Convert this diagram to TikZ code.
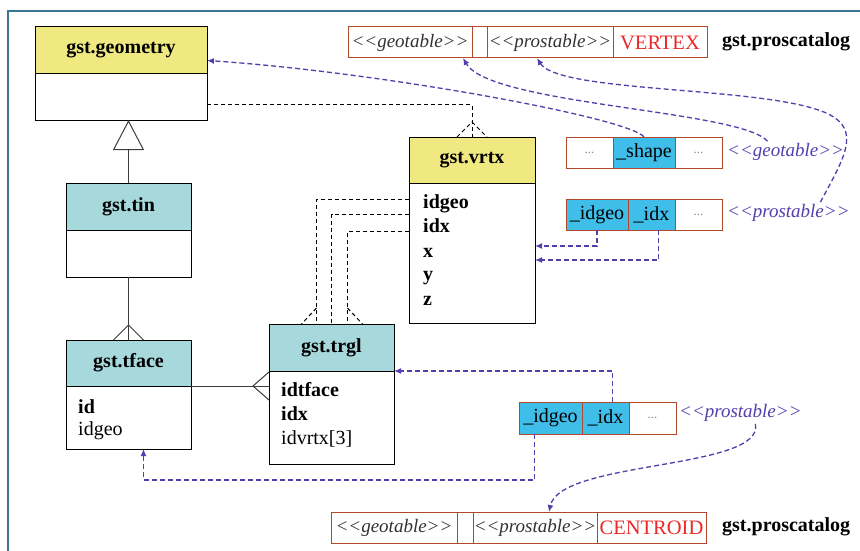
\documentclass[tikz,border=0pt]{standalone}
\usepackage{fontspec}
\setmainfont{Liberation Serif}
\usetikzlibrary{arrows.meta,calc}
\definecolor{frm}{RGB}{58,118,148}
\definecolor{ylw}{RGB}{240,232,128}
\definecolor{tea}{RGB}{166,216,220}
\definecolor{cyn}{RGB}{62,190,232}
\definecolor{tbl}{RGB}{178,72,42}
\definecolor{prp}{RGB}{84,62,172}
\definecolor{vred}{RGB}{236,40,40}
\definecolor{lnc}{RGB}{60,60,60}
\newcommand\dlt{<\kern0pt<}
\newcommand\dgt{>\kern0pt>}
\begin{document}
\begin{tikzpicture}[x=1pt,y=-1pt,
  uml/.style={draw=black, line width=1pt, inner sep=0pt, outer sep=0pt, anchor=north west},
  hdr/.style={uml, font=\fontsize{20}{24}\selectfont\bfseries},
  bodybox/.style={uml, fill=white},
  fld/.style={anchor=base west, inner sep=0pt, font=\fontsize{20}{24}\selectfont},
  cell/.style={draw=tbl, line width=1pt, inner sep=0pt, outer sep=0pt, anchor=north west, minimum height=31pt, font=\fontsize{20}{24}\selectfont},
  tcell/.style={cell, font=\fontsize{19}{23}\selectfont\itshape, text=black!80},
  dcell/.style={cell, minimum width=47pt, font=\fontsize{13}{15}\selectfont, text=black!45},
  bcell/.style={cell, fill=cyn},
  plab/.style={anchor=west, inner sep=0pt, text=prp, font=\fontsize{19}{23}\selectfont\itshape},
  cat/.style={anchor=west, inner sep=0pt, font=\fontsize{20}{24}\selectfont\bfseries},
  ln/.style={draw=lnc, line width=1pt},
  fk/.style={draw=black, line width=1pt, dash pattern=on 4pt off 3pt},
  lnk/.style={draw=prp, line width=1.3pt, dash pattern=on 5pt off 3pt, -{Latex[length=7pt,width=6pt]}},
  lnkn/.style={draw=prp, line width=1.3pt, dash pattern=on 5pt off 3pt}
]
\useasboundingbox (0,0) rectangle (860,551);
\fill[white] (0,0) rectangle (860,551);
\draw[frm, line width=2pt] (8,551) -- (8,11) -- (860,11);

% UML boxes
\node[hdr, fill=ylw, minimum width=172pt, minimum height=47pt] (geoH) at (35,27) {gst.geometry};
\node[bodybox, minimum width=172pt, minimum height=46pt] (geoB) at (geoH.south west) {};

\node[hdr, fill=tea, minimum width=125pt, minimum height=47pt] (tinH) at (66,183) {gst.tin};
\node[bodybox, minimum width=125pt, minimum height=47pt] (tinB) at (tinH.south west) {};

\node[hdr, fill=tea, minimum width=125pt, minimum height=46pt] (tfH) at (66,340) {gst.tface};
\node[bodybox, minimum width=125pt, minimum height=63pt] (tfB) at (tfH.south west) {};
\node[fld] (tf1) at ($(tfB.north west)+(12,27)$) {\bfseries id};
\node[fld] (tf2) at ($(tfB.north west)+(12,49)$) {idgeo};

\node[hdr, fill=tea, minimum width=125pt, minimum height=47pt] (trglH) at (269,324) {gst.trgl};
\node[bodybox, minimum width=125pt, minimum height=93pt] (trglB) at (trglH.south west) {};
\node[fld] (tr1) at ($(trglB.north west)+(12,25)$) {\bfseries idtface};
\node[fld] (tr2) at ($(trglB.north west)+(12,49)$) {\bfseries idx};
\node[fld] (tr3) at ($(trglB.north west)+(12,73)$) {idvrtx[3]};

\node[hdr, fill=ylw, minimum width=126pt, minimum height=46pt] (vrtxH) at (409,137) {gst.vrtx};
\node[bodybox, minimum width=126pt, minimum height=140pt] (vrtxB) at (vrtxH.south west) {};
\node[fld] (vr1) at ($(vrtxB.north west)+(14,25)$) {\bfseries idgeo};
\node[fld] (vr2) at ($(vrtxB.north west)+(14,49)$) {\bfseries idx};
\node[fld] (vr3) at ($(vrtxB.north west)+(14,74)$) {\bfseries x};
\node[fld] (vr4) at ($(vrtxB.north west)+(14,97)$) {\bfseries y};
\node[fld] (vr5) at ($(vrtxB.north west)+(14,122)$) {\bfseries z};

% top catalog table
\node[tcell, minimum width=124pt] (vg) at (348,27) {\dlt geotable\dgt};
\node[cell, minimum width=15pt] (ve) at (vg.north east) {};
\node[tcell, minimum width=126pt] (vp) at (ve.north east) {\dlt prostable\dgt};
\node[cell, minimum width=94pt, text=vred, font=\fontsize{20.5}{24}\selectfont] (vv) at (vp.north east) {VERTEX};
\node[cat] (cat1) at (722,42) {gst.proscatalog};

% geotable row
\node[dcell] (sa) at (566,137) {...};
\node[bcell, minimum width=62pt] (ss) at (sa.north east) {\_shape};
\node[dcell] (sb) at (ss.north east) {...};
\node[plab] (lg) at (727,152) {\dlt geotable\dgt};

% upper prostable row
\node[bcell, minimum width=62pt] (pa) at (566,199) {\_idgeo};
\node[bcell, minimum width=47pt] (pb) at (pa.north east) {\_idx};
\node[dcell] (pc) at (pb.north east) {...};
\node[plab] (lp) at (727,213) {\dlt prostable\dgt};

% lower prostable row
\node[bcell, minimum width=63pt, minimum height=32pt] (qa) at (519,402) {\_idgeo};
\node[bcell, minimum width=47pt, minimum height=32pt] (qb) at (qa.north east) {\_idx};
\node[dcell, minimum height=32pt] (qc) at (qb.north east) {...};
\node[plab] (lq) at (679,413) {\dlt prostable\dgt};

% bottom catalog table
\node[tcell, minimum width=126pt] (cg) at (331,512) {\dlt geotable\dgt};
\node[cell, minimum width=16pt] (ce) at (cg.north east) {};
\node[tcell, minimum width=124pt] (cp) at (ce.north east) {\dlt prostable\dgt};
\node[cell, minimum width=109pt, text=vred, font=\fontsize{20.5}{24}\selectfont] (cc) at (cp.north east) {CENTROID};
\node[cat] (cat2) at (722,527) {gst.proscatalog};

% inheritance tin -> geometry
\draw[ln, -{Triangle[open,length=30pt,width=31pt]}] (tinH.north) -- (tinH.north |- geoB.south);

% tin -> tface (crow's foot)
\draw[ln] (tinB.south) -- (tfH.north);
\draw[ln] ($(tfH.north)+(-15,0)$) -- ($(tfH.north)+(0,-15)$) -- ($(tfH.north)+(15,0)$);

% tface -> trgl (crow's foot)
\coordinate (tt) at (tfH.south east -| trglB.west);
\draw[ln] (tfH.south east) -- (tt);
\draw[ln] ($(tt)+(0,-14)$) -- ($(tt)+(-16,0)$) -- ($(tt)+(0,14)$);

% geometry -> vrtx (dashed, crow's foot)
\draw[fk] ($(geoB.east)+(0,8)$) -| (vrtxH.north);
\draw[fk] ($(vrtxH.north)+(-15,0)$) -- ($(vrtxH.north)+(0,-15)$) -- ($(vrtxH.north)+(15,0)$);

% vrtx -> trgl (dashed, crow's foot)
\draw[fk] ($(vrtxB.north west)+(0,16)$) -| ($(trglH.north)+(-15,0)$);
\draw[fk] ($(vrtxB.north west)+(0,31)$) -| (trglH.north);
\draw[fk] ($(vrtxB.north west)+(0,48)$) -| ($(trglH.north)+(16,0)$);
\draw[fk] ($(trglH.north)+(-15,-16)$) -- ($(trglH.north)+(-30,0)$);
\draw[fk] ($(trglH.north)+(16,-16)$) -- ($(trglH.north)+(31,0)$);

% purple links
\draw[lnk] (ss.north) .. controls (630,118) and (380,72) .. ($(geoH.east)+(0,10)$);
\draw[lnk] ($(lg.north)+(-18,-2)$) .. controls (740,110) and (490,105) .. ($(vg.south east)+(-9,0)$);
\draw[lnk] ($(lp.north)+(32,-2)$) .. controls (840,165) and (860,135) .. (835,118) .. controls (790,85) and (560,95) .. ($(vp.south west)+(50,0)$);
\draw[lnk] (pa.south) |- ($(vrtxB.east)+(0,-7)$);
\draw[lnk] ($(pb.south)+(7,0)$) |- ($(vrtxB.east)+(0,7)$);
\draw[lnk] ($(qb.north)+(7,0)$) |- (trglH.south east);
\draw[lnk] ($(qa.south)+(-16,0)$) -- ++(0,46) -| ($(tfB.south)+(15,0)$);
\draw[lnk] ($(lq.south)+(15,2)$) .. controls (765,470) and (560,460) .. ($(cp.north)+(14,0)$);
\end{tikzpicture}
\end{document}
